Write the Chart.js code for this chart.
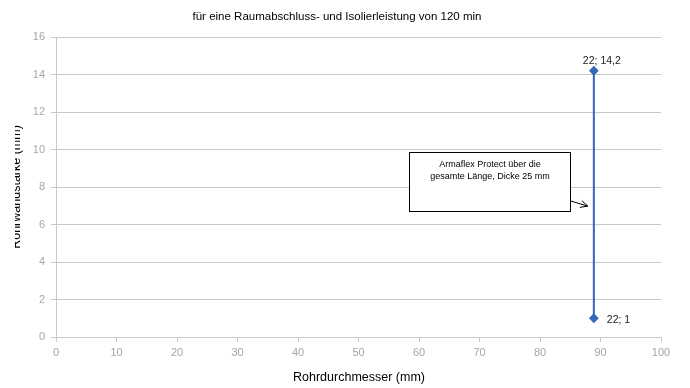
<!DOCTYPE html>
<html>
<head>
<meta charset="utf-8">
<script src="https://cdn.jsdelivr.net/npm/chart.js@4/dist/chart.umd.min.js"></script>
<style>
  html, body { margin: 0; padding: 0; background: #fff; }
  #wrap { width: 690px; height: 388px; }
</style>
</head>
<body>
<div id="wrap"><canvas id="c" width="690" height="388"></canvas></div>
<script>
// ---- data ----
const chartTitle = "für eine Raumabschluss- und Isolierleistung von 120 min";
const xAxisTitle = "Rohrdurchmesser (mm)";
const yAxisTitle = "Rohrwandstärke (mm)";
const seriesX = [88.9, 88.9];
const seriesY = [14.2, 1];
const pointLabels = ["22; 14,2", "22; 1"];
const noteLines = ["Armaflex Protect über die", "gesamte Länge, Dicke 25 mm"];
const noteBox = { x0: 58.3, x1: 85.0, y0: 9.85, y1: 6.7 };     // in data units
const noteArrow = { x0: 85.1, y0: 7.25, x1: 87.9, y1: 6.98 };  // in data units
const xTicks = { min: 0, max: 100, step: 10 };
const yTicks = { min: 0, max: 16, step: 2 };

const FONT = "'Liberation Sans', Arial, sans-serif";
const lineColor = "#3468b8";
const gridColor = "#c9c9c9";
const tickColor = "#a6a6a6";

const extras = {
  id: 'extras',
  afterDraw(chart) {
    const ctx = chart.ctx;
    const xs = chart.scales.x, ys = chart.scales.y;
    ctx.save();
    // Title
    ctx.fillStyle = "#000";
    ctx.font = "11.5px " + FONT;
    ctx.textAlign = "center";
    ctx.textBaseline = "middle";
    ctx.fillText(chartTitle, 337, 17);
    // X axis title
    ctx.font = "12.5px " + FONT;
    ctx.fillText(xAxisTitle, 359, 378);
    // Y axis title (partly clipped)
    ctx.save();
    ctx.beginPath();
    ctx.rect(15, 0, 60, 388);
    ctx.clip();
    ctx.translate(20, (ys.top + ys.bottom) / 2);
    ctx.rotate(-Math.PI / 2);
    ctx.font = "12.5px " + FONT;
    ctx.textBaseline = "alphabetic";
    ctx.fillText(yAxisTitle, 0, 0);
    ctx.restore();

    // Data labels
    const meta = chart.getDatasetMeta(0);
    ctx.font = "10.5px " + FONT;
    ctx.fillStyle = "#1a1a1a";
    const p0 = meta.data[0], p1 = meta.data[1];
    ctx.textAlign = "center";
    ctx.textBaseline = "middle";
    ctx.fillText(pointLabels[0], p0.x + 8, p0.y - 10);
    ctx.textAlign = "left";
    ctx.fillText(pointLabels[1], p1.x + 13, p1.y + 1.5);

    // Annotation box
    const bx0 = Math.round(xs.getPixelForValue(noteBox.x0)) + 0.5;
    const bx1 = Math.round(xs.getPixelForValue(noteBox.x1)) + 0.5;
    const by0 = Math.round(ys.getPixelForValue(noteBox.y0)) + 0.5;
    const by1 = Math.round(ys.getPixelForValue(noteBox.y1)) + 0.5;
    ctx.fillStyle = "#fff";
    ctx.fillRect(bx0, by0, bx1 - bx0, by1 - by0);
    ctx.strokeStyle = "#000";
    ctx.lineWidth = 1;
    ctx.strokeRect(bx0, by0, bx1 - bx0, by1 - by0);
    ctx.fillStyle = "#000";
    ctx.font = "9px " + FONT;
    ctx.textAlign = "center";
    ctx.textBaseline = "middle";
    const cx = (bx0 + bx1) / 2;
    ctx.fillText(noteLines[0], cx, by0 + 12);
    ctx.fillText(noteLines[1], cx, by0 + 24);

    // Arrow
    const ax0 = xs.getPixelForValue(noteArrow.x0), ay0 = ys.getPixelForValue(noteArrow.y0);
    const ax1 = xs.getPixelForValue(noteArrow.x1), ay1 = ys.getPixelForValue(noteArrow.y1);
    ctx.beginPath();
    ctx.moveTo(ax0, ay0);
    ctx.lineTo(ax1, ay1);
    const ang = Math.atan2(ay1 - ay0, ax1 - ax0);
    const hl = 8;
    ctx.moveTo(ax1 - hl * Math.cos(ang - 0.45), ay1 - hl * Math.sin(ang - 0.45));
    ctx.lineTo(ax1, ay1);
    ctx.lineTo(ax1 - hl * Math.cos(ang + 0.45), ay1 - hl * Math.sin(ang + 0.45));
    ctx.stroke();
    ctx.restore();
  }
};

new Chart(document.getElementById('c'), {
  type: 'scatter',
  data: {
    datasets: [{
      data: seriesX.map((x, i) => ({ x: x, y: seriesY[i] })),
      showLine: true,
      borderColor: lineColor,
      backgroundColor: lineColor,
      borderWidth: 2,
      pointStyle: 'rectRot',
      pointRadius: 3.5,
      pointHoverRadius: 3.5
    }]
  },
  options: {
    responsive: false,
    animation: false,
    devicePixelRatio: 1,
    layout: { padding: { top: 37, right: 29, left: 0, bottom: 0 } },
    plugins: { legend: { display: false }, tooltip: { enabled: false }, title: { display: false } },
    scales: {
      x: {
        type: 'linear',
        min: xTicks.min, max: xTicks.max,
        afterFit: s => { s.height = 51; },
        ticks: { stepSize: xTicks.step, color: tickColor, font: { size: 11, family: FONT }, padding: 4, maxRotation: 0 },
        grid: { drawOnChartArea: false, drawTicks: true, tickLength: 5, color: gridColor },
        border: { color: gridColor, width: 1 }
      },
      y: {
        type: 'linear',
        min: yTicks.min, max: yTicks.max,
        afterFit: s => { s.width = 56; },
        ticks: { stepSize: yTicks.step, color: tickColor, font: { size: 11, family: FONT }, padding: 6 },
        grid: { color: gridColor, tickLength: 5 },
        border: { color: gridColor, width: 1 }
      }
    }
  },
  plugins: [extras]
});
</script>
</body>
</html>
